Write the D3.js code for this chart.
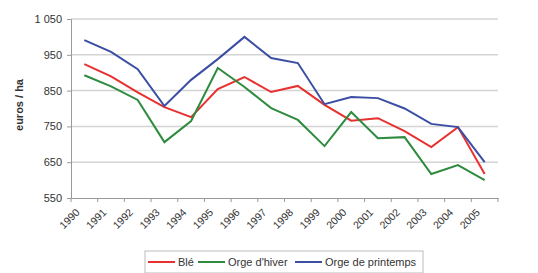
<!DOCTYPE html>
<html><head><meta charset="utf-8">
<script src="https://cdn.jsdelivr.net/npm/d3@7"></script>
<style>body{margin:0;background:#fff}svg{display:block;font-family:"Liberation Sans",Arial,sans-serif}</style>
</head><body><svg id="c" width="538" height="273"></svg>
<script>
const years = ["1990","1991","1992","1993","1994","1995","1996","1997","1998","1999","2000","2001","2002","2003","2004","2005"];
const ble = [924,890,845,804,776,854,888,846,863,810,766,773,737,692,748,617];
const orgeHiver = [893,862,824,706,765,913,860,801,768,695,790,717,720,617,642,600];
const orgePrintemps = [991,958,910,807,880,938,1000,941,927,812,832,829,800,757,748,650];
const yTicks = [550,650,750,850,950,1050];
const seriesNames = ["Blé","Orge d'hiver","Orge de printemps"];
const colors = ["#e8302e","#2e8b3f","#3b4ea3"];

const svg = d3.select("#c");
const x = d3.scaleBand().domain(years).range([71,498]);
const y = d3.scaleLinear().domain([550,1050]).range([198,19]);

// gridlines
svg.append("g").selectAll("line").data(yTicks.slice(1)).join("line")
  .attr("x1",71).attr("x2",498).attr("y1",d=>y(d)).attr("y2",d=>y(d))
  .attr("stroke","#d4d4d4").attr("stroke-width",1.5);

// y axis
const fmt = d => d >= 1000 ? String(d).replace(/(\d)(\d{3})$/,"$1 $2") : String(d);
const ya = svg.append("g").attr("transform","translate(71,0)")
  .call(d3.axisLeft(y).tickValues(yTicks).tickFormat(fmt).tickSize(4).tickPadding(5));
ya.select(".domain").attr("stroke","#999");
ya.selectAll(".tick line").attr("stroke","#999");
ya.selectAll("text").attr("font-size",11).attr("fill","#333");

// x axis
const xa = svg.append("g").attr("transform","translate(0,198)")
  .call(d3.axisBottom(x).tickSize(0).tickFormat(""));
xa.select(".domain").attr("stroke","#999");
const edges = years.map(d=>x(d)).concat([498]);
svg.append("g").selectAll("line").data(edges).join("line")
  .attr("x1",d=>d).attr("x2",d=>d).attr("y1",198).attr("y2",202).attr("stroke","#999");
svg.append("g").selectAll("text").data(years).join("text")
  .attr("transform",d=>`translate(${x(d)+x.bandwidth()/2-4},213) rotate(-45)`)
  .attr("text-anchor","end").attr("font-size",10.5).attr("fill","#333").text(d=>d);

// y title
svg.append("text").attr("transform","translate(23,105) rotate(-90)")
  .attr("text-anchor","middle").attr("font-size",11).attr("font-weight","bold").attr("fill","#333").text("euros / ha");

// lines
const line = d3.line().x((d,i)=>x(years[i])+x.bandwidth()/2).y(d=>y(d));
[ble,orgeHiver,orgePrintemps].forEach((s,i)=>{
  svg.append("path").datum(s).attr("d",line).attr("fill","none")
    .attr("stroke",colors[i]).attr("stroke-width",2).attr("stroke-linejoin","miter");
});

// legend
const lg = svg.append("g");
lg.append("rect").attr("x",145).attr("y",251).attr("width",278).attr("height",22)
  .attr("fill","#fff").attr("stroke","#bbb");
const lx = [148,198,295];
seriesNames.forEach((n,i)=>{
  lg.append("line").attr("x1",lx[i]).attr("x2",lx[i]+27).attr("y1",262).attr("y2",262)
    .attr("stroke",colors[i]).attr("stroke-width",2);
  lg.append("text").attr("x",lx[i]+30).attr("y",266).attr("font-size",11).attr("fill","#333").text(n);
});
</script></body></html>
